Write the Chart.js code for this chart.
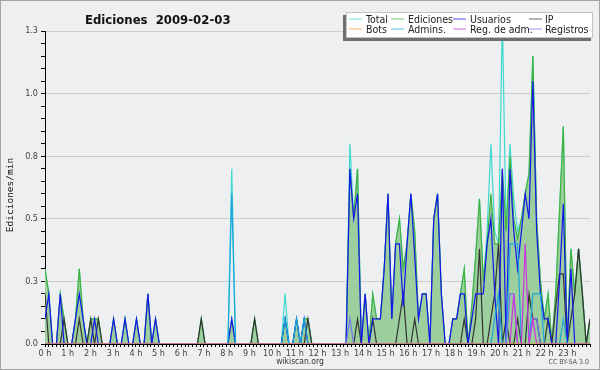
<!DOCTYPE html>
<html>
<head>
<meta charset="utf-8">
<script src="https://cdn.jsdelivr.net/npm/chart.js@4.4.0/dist/chart.umd.min.js"></script>
<style>
  html, body { margin: 0; padding: 0; background: #efefef; }
  #wrap { position: relative; width: 600px; height: 370px; }
</style>
</head>
<body>
<div id="wrap"><canvas id="editsChart"></canvas></div>

<script>
// one value per 10 minutes, 2009-02-03, edits per minute
const hourLabels = ['0 h', '1 h', '2 h', '3 h', '4 h', '5 h', '6 h', '7 h', '8 h', '9 h', '10 h', '11 h',
                    '12 h', '13 h', '14 h', '15 h', '16 h', '17 h', '18 h', '19 h', '20 h', '21 h', '22 h', '23 h'];
const yTickLabels = ['0.0', '0.3', '0.5', '0.8', '1.0', '1.3'];
const seriesNames = ['Total', 'Ediciones', 'Usuarios', 'IP', 'Bots', 'Admins.', 'Reg. de adm.', 'Registros'];

const total = [
  0.3, 0.2, 0, 0, 0.2, 0.1,
  0, 0, 0.1, 0.3, 0.1, 0,
  0.1, 0.1, 0.1, 0, 0, 0,
  0.1, 0, 0, 0.1, 0, 0,
  0.1, 0, 0, 0.2, 0, 0.1,
  0, 0, 0, 0, 0, 0,
  0, 0, 0, 0, 0, 0.1,
  0, 0, 0, 0, 0, 0,
  0, 0.7, 0, 0, 0, 0,
  0, 0.1, 0, 0, 0, 0,
  0, 0, 0, 0.2, 0, 0,
  0.1, 0, 0.1, 0.1, 0, 0,
  0, 0, 0, 0, 0, 0,
  0, 0, 0.8, 0.5, 0.7, 0,
  0.2, 0, 0.2, 0.1, 0.1, 0.3,
  0.6, 0.1, 0.4, 0.5, 0.3, 0.4,
  0.6, 0.45, 0.1, 0.2, 0.2, 0,
  0.5, 0.6, 0.2, 0, 0, 0.1,
  0.1, 0.2, 0.3, 0, 0.15, 0.35,
  0.58, 0.25, 0.45, 0.8, 0.45, 0.4,
  1.3, 0.45, 0.8, 0.58, 0.45, 0.5,
  0.6, 0.68, 1.15, 0.5, 0.25, 0.1,
  0.2, 0, 0.2, 0.53, 0.87, 0,
  0.38, 0.2, 0.38, 0.2, 0, 0.1
];

const ediciones = [
  0.3, 0.2, 0, 0, 0.2, 0.1,
  0, 0, 0.1, 0.3, 0.1, 0,
  0.1, 0.1, 0.1, 0, 0, 0,
  0.1, 0, 0, 0.1, 0, 0,
  0.1, 0, 0, 0.2, 0, 0.1,
  0, 0, 0, 0, 0, 0,
  0, 0, 0, 0, 0, 0.1,
  0, 0, 0, 0, 0, 0,
  0, 0.1, 0, 0, 0, 0,
  0, 0.1, 0, 0, 0, 0,
  0, 0, 0, 0.1, 0, 0,
  0.1, 0, 0.1, 0.1, 0, 0,
  0, 0, 0, 0, 0, 0,
  0, 0, 0.7, 0.5, 0.7, 0,
  0.2, 0, 0.2, 0.1, 0.1, 0.3,
  0.6, 0.1, 0.4, 0.5, 0.3, 0.4,
  0.6, 0.45, 0.1, 0.2, 0.2, 0,
  0.5, 0.6, 0.2, 0, 0, 0.1,
  0.1, 0.2, 0.3, 0, 0.15, 0.35,
  0.58, 0.25, 0.4, 0.6, 0.4, 0.4,
  0.7, 0.45, 0.75, 0.5, 0.42, 0.5,
  0.6, 0.68, 1.15, 0.5, 0.25, 0.1,
  0.2, 0, 0.2, 0.53, 0.87, 0,
  0.38, 0.2, 0.38, 0.2, 0, 0.1
];

const usuarios = [
  0.1, 0.2, 0, 0, 0.2, 0,
  0, 0, 0.1, 0.2, 0.1, 0,
  0, 0.1, 0, 0, 0, 0,
  0.1, 0, 0, 0.1, 0, 0,
  0.1, 0, 0, 0.2, 0, 0.1,
  0, 0, 0, 0, 0, 0,
  0, 0, 0, 0, 0, 0,
  0, 0, 0, 0, 0, 0,
  0, 0.1, 0, 0, 0, 0,
  0, 0, 0, 0, 0, 0,
  0, 0, 0, 0.1, 0, 0,
  0.1, 0, 0.1, 0, 0, 0,
  0, 0, 0, 0, 0, 0,
  0, 0, 0.7, 0.5, 0.6, 0,
  0.2, 0, 0.1, 0.1, 0.1, 0.3,
  0.6, 0.1, 0.4, 0.4, 0.15, 0.4,
  0.6, 0.35, 0.1, 0.2, 0.2, 0,
  0.5, 0.6, 0.2, 0, 0, 0.1,
  0.1, 0.2, 0.2, 0, 0.1, 0.2,
  0.2, 0.2, 0.4, 0.5, 0.2, 0,
  0.7, 0, 0.7, 0.45, 0.3, 0.45,
  0.6, 0.5, 1.05, 0.45, 0.2, 0.1,
  0.1, 0, 0, 0.25, 0.56, 0,
  0.3, 0, 0, 0, 0, 0
];

const ip = [
  0.2, 0, 0, 0, 0, 0.1,
  0, 0, 0, 0.1, 0, 0,
  0.1, 0, 0.1, 0, 0, 0,
  0, 0, 0, 0, 0, 0,
  0, 0, 0, 0, 0, 0,
  0, 0, 0, 0, 0, 0,
  0, 0, 0, 0, 0, 0.1,
  0, 0, 0, 0, 0, 0,
  0, 0, 0, 0, 0, 0,
  0, 0.1, 0, 0, 0, 0,
  0, 0, 0, 0, 0, 0,
  0, 0, 0, 0.1, 0, 0,
  0, 0, 0, 0, 0, 0,
  0, 0, 0, 0, 0.1, 0,
  0, 0, 0.1, 0, 0, 0,
  0, 0, 0, 0.1, 0.2, 0,
  0, 0.1, 0, 0, 0, 0,
  0, 0, 0, 0, 0, 0,
  0, 0, 0.1, 0, 0, 0.1,
  0.38, 0, 0, 0.1, 0.2, 0.4,
  0, 0.1, 0, 0, 0.1, 0,
  0, 0.2, 0.1, 0.1, 0, 0,
  0.1, 0, 0.15, 0.28, 0.28, 0,
  0.1, 0.2, 0.38, 0.2, 0, 0.1
];

const bots = [
  0, 0, 0, 0, 0, 0,   0, 0, 0, 0, 0, 0,   0, 0, 0, 0, 0, 0,   0, 0, 0, 0, 0, 0,
  0, 0, 0, 0, 0, 0,   0, 0, 0, 0, 0, 0,   0, 0, 0, 0, 0, 0,   0, 0, 0, 0, 0, 0,
  0, 0, 0, 0, 0, 0,   0, 0, 0, 0, 0, 0,   0, 0, 0, 0, 0, 0,   0, 0, 0, 0, 0, 0,
  0, 0, 0, 0, 0, 0,   0, 0, 0, 0, 0, 0,   0, 0, 0, 0, 0, 0,   0, 0, 0, 0, 0, 0,
  0, 0, 0, 0, 0, 0,   0, 0, 0, 0, 0, 0,   0, 0, 0, 0, 0, 0,   0, 0, 0, 0, 0, 0,
  0, 0, 0, 0, 0, 0,   0, 0, 0, 0, 0, 0,   0, 0, 0, 0, 0, 0,   0, 0, 0, 0, 0, 0
];

const admins = [
  0, 0, 0, 0, 0, 0,   0, 0, 0, 0, 0, 0,   0, 0, 0, 0, 0, 0,   0, 0, 0, 0, 0, 0,
  0, 0, 0, 0, 0, 0,   0, 0, 0, 0, 0, 0,   0, 0, 0, 0, 0, 0,   0, 0, 0, 0, 0, 0,
  0, 0.6, 0, 0, 0, 0, 0, 0, 0, 0, 0, 0,   0, 0, 0, 0.1, 0, 0, 0.1, 0, 0.1, 0, 0, 0,
  0, 0, 0, 0, 0, 0,   0, 0, 0, 0, 0, 0,   0, 0, 0, 0, 0, 0,   0, 0, 0, 0, 0, 0,
  0, 0, 0, 0, 0, 0,   0, 0, 0, 0, 0, 0,   0, 0, 0, 0, 0, 0,   0, 0, 0, 0, 0.1, 0.2,
  0, 0, 0.4, 0.4, 0.4, 0, 0, 0, 0.2, 0.2, 0.2, 0, 0, 0, 0, 0, 0.1, 0, 0, 0, 0, 0, 0, 0
];

const regAdm = [
  0, 0, 0, 0, 0, 0,   0, 0, 0, 0, 0, 0,   0, 0, 0, 0, 0, 0,   0, 0, 0, 0, 0, 0,
  0, 0, 0, 0, 0, 0,   0, 0, 0, 0, 0, 0,   0, 0, 0, 0, 0, 0,   0, 0, 0, 0, 0, 0,
  0, 0, 0, 0, 0, 0,   0, 0, 0, 0, 0, 0,   0, 0, 0, 0, 0, 0,   0, 0, 0, 0, 0, 0,
  0, 0, 0, 0, 0, 0,   0, 0, 0, 0, 0, 0,   0, 0, 0, 0, 0, 0,   0, 0, 0, 0, 0, 0,
  0, 0, 0, 0, 0, 0,   0, 0, 0, 0, 0, 0,   0, 0, 0, 0, 0, 0,   0, 0, 0, 0, 0, 0,
  0, 0, 0, 0.2, 0, 0, 0.4, 0, 0.1, 0, 0, 0, 0, 0, 0, 0, 0, 0, 0, 0, 0, 0, 0, 0
];

const registros = [
  0, 0, 0, 0, 0, 0,   0, 0, 0, 0, 0, 0,   0, 0, 0, 0, 0, 0,   0, 0, 0, 0, 0, 0,
  0, 0, 0, 0, 0, 0,   0, 0, 0, 0, 0, 0,   0, 0, 0, 0, 0, 0,   0, 0, 0, 0, 0, 0,
  0, 0, 0, 0, 0, 0,   0, 0, 0, 0, 0, 0,   0, 0, 0, 0, 0, 0,   0, 0, 0, 0, 0, 0,
  0, 0, 0, 0, 0, 0,   0, 0, 0.1, 0, 0, 0, 0, 0, 0, 0, 0, 0,   0, 0, 0, 0, 0, 0,
  0, 0, 0, 0, 0, 0,   0, 0, 0, 0, 0, 0,   0, 0, 0, 0, 0, 0,   0, 0, 0, 0, 0, 0,
  0, 0, 0.2, 0.2, 0, 0, 0, 0, 0.1, 0.1, 0, 0, 0, 0, 0, 0, 0, 0, 0, 0, 0, 0, 0, 0
];

const slotIndex = total.map((v, i) => i);

const condensed = '"DejaVu Sans Condensed", "Liberation Sans Narrow", "DejaVu Sans", sans-serif';

function line(label, data, color, order, extra) {
    return Object.assign({
        label: label,
        data: data,
        borderColor: color,
        backgroundColor: color,
        borderWidth: 1.2,
        pointRadius: 0,
        tension: 0,
        fill: false,
        order: order
    }, extra || {});
}

// background, frame, title, legend and footer texts
const framePlugin = {
    id: 'frame',
    beforeDraw(chart) {
        const c = chart.ctx, a = chart.chartArea;
        c.save();
        c.fillStyle = '#efefef';
        c.fillRect(0, 0, chart.width, chart.height);
        c.fillStyle = '#eeeff1';
        c.fillRect(a.left, a.top, a.right - a.left, a.bottom - a.top);
        c.restore();
    },
    afterDraw(chart) {
        const c = chart.ctx;
        c.save();
        c.strokeStyle = '#a4a4a4';
        c.lineWidth = 1;
        c.strokeRect(0.5, 0.5, chart.width - 1, chart.height - 1);

        c.fillStyle = '#111';
        c.font = 'bold 13px ' + condensed;
        c.textBaseline = 'alphabetic';
        c.fillText('Ediciones  2009-02-03', 85, 24);

        c.save();
        c.translate(11, 195);
        c.rotate(-Math.PI / 2);
        c.font = '9.5px "DejaVu Sans Mono", monospace';
        c.textAlign = 'center';
        c.textBaseline = 'middle';
        c.fillText('Ediciones/min', 0, 0);
        c.restore();

        // legend box, shadow on the left and bottom
        c.fillStyle = '#707070';
        c.fillRect(343, 15, 248, 26);
        c.fillStyle = '#ffffff';
        c.fillRect(346, 12, 247, 26);
        c.strokeStyle = '#c4c4c4';
        c.strokeRect(346.5, 12.5, 246, 25);

        const lineX = [349, 391, 453, 529];
        const textX = [366, 408, 470, 545];
        const rowY = [19, 29];
        c.font = '10.5px ' + condensed;
        c.textAlign = 'left';
        chart.data.datasets.forEach((ds, k) => {
            const col = k % 4, row = Math.floor(k / 4);
            c.strokeStyle = ds.borderColor;
            c.globalAlpha = 0.75;
            c.lineWidth = 1;
            c.beginPath();
            c.moveTo(lineX[col], rowY[row]);
            c.lineTo(lineX[col] + 13, rowY[row]);
            c.stroke();
            c.globalAlpha = 1;
            c.fillStyle = '#222';
            c.fillText(ds.label, textX[col], rowY[row] + 3.5);
        });

        c.fillStyle = '#333';
        c.font = '8.5px ' + condensed;
        c.textAlign = 'center';
        c.fillText('wikiscan.org', 300, 364);
        c.fillStyle = '#555';
        c.font = '7px ' + condensed;
        c.textAlign = 'right';
        c.fillText('CC BY-SA 3.0', 589, 364);
        c.restore();
    }
};

function createEditsChart() {
    const ctx = document.getElementById('editsChart').getContext('2d');

    const datasets = [
        line(seriesNames[0], total, '#3fd8cf', 8),
        line(seriesNames[1], ediciones, '#3db23d', 7, { fill: 'origin', backgroundColor: 'rgb(157, 206, 157)' }),
        line(seriesNames[2], usuarios, '#1414f0', 5),
        line(seriesNames[3], ip, '#333333', 6),
        line(seriesNames[4], bots, '#f59a35', 1),
        line(seriesNames[5], admins, '#1aa6dd', 4),
        line(seriesNames[6], regAdm, '#cc33dd', 2),
        line(seriesNames[7], registros, '#7373f5', 3)
    ];

    return new Chart(ctx, {
        type: 'line',
        data: {
            labels: slotIndex,
            datasets: datasets
        },
        options: {
            responsive: true,
            maintainAspectRatio: false,
            animation: false,
            layout: { padding: { top: 31, right: 10, left: 0, bottom: 0 } },
            plugins: {
                legend: { display: false },
                tooltip: { enabled: false }
            },
            scales: {
                x: { type: 'linear', min: 0, max: slotIndex.length - 1, display: false },
                hours: {
                    type: 'linear',
                    axis: 'x',
                    position: 'bottom',
                    min: 0,
                    max: 24,
                    afterFit: function(scale) { scale.height = 26; },
                    border: { color: '#000', width: 1 },
                    grid: { drawOnChartArea: false, tickLength: 3, tickColor: '#000', color: '#000' },
                    ticks: {
                        stepSize: 1 / 6,
                        autoSkip: false,
                        maxRotation: 0,
                        minRotation: 0,
                        padding: 1,
                        color: '#444',
                        font: { family: condensed, size: 9 },
                        callback: function(value) {
                            const h = Math.round(value);
                            return Math.abs(value - h) < 1e-6 && h < hourLabels.length ? hourLabels[h] : '';
                        }
                    }
                },
                y: {
                    min: 0,
                    max: 1.25,
                    afterFit: function(scale) { scale.width = 45; },
                    border: { color: '#000', width: 1 },
                    grid: {
                        tickLength: 4,
                        tickColor: '#000',
                        color: function(c) {
                            const k = Math.round(c.tick.value * 20);
                            return (k % 5 === 0 && k > 0) ? '#cdcdcd' : 'rgba(0,0,0,0)';
                        }
                    },
                    ticks: {
                        stepSize: 0.05,
                        autoSkip: false,
                        padding: 3,
                        color: '#444',
                        font: { family: condensed, size: 9 },
                        callback: function(value) {
                            const k = Math.round(value * 20);
                            return k % 5 === 0 ? yTickLabels[k / 5] : '';
                        }
                    }
                }
            }
        },
        plugins: [framePlugin]
    });
}

createEditsChart();
</script>
</body>
</html>
